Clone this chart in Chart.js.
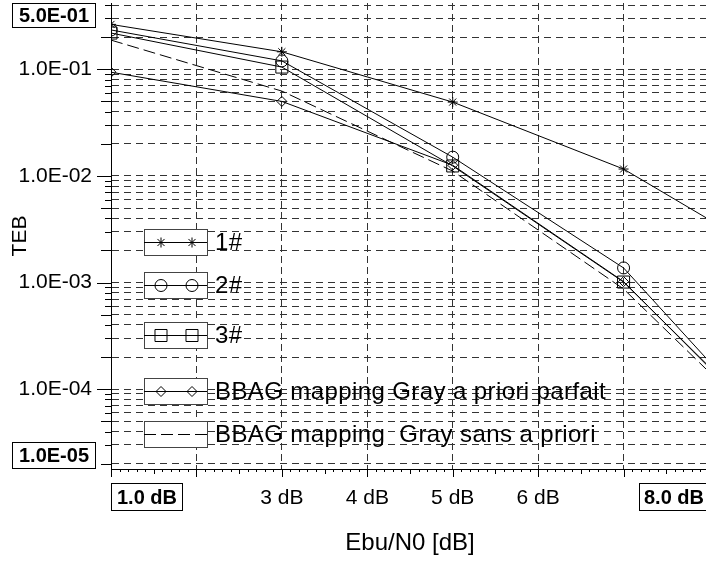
<!DOCTYPE html>
<html>
<head>
<meta charset="utf-8">
<script src="https://cdn.jsdelivr.net/npm/chart.js@4.4.1/dist/chart.umd.min.js"></script>
<style>
    html, body { margin: 0; padding: 0; background: #fff; overflow: hidden; }
    #wrap { position: relative; width: 712px; height: 563px; }
</style>
</head>
<body>
<div id="wrap"><canvas id="tebChart" width="712" height="563"></canvas></div>
<script>
// Valeurs : TEB en fonction de Ebu/N0
const ebn0 = [1, 3, 5, 7, 8];
const teb1 = [0.264, 0.146, 0.0493, 0.0116, 0.0039];
const teb2 = [0.234, 0.120, 0.0150, 0.00137, 0.000182];
const teb3 = [0.219, 0.105, 0.0124, 0.00101, 0.000163];
const tebParfait = [0.094, 0.050, 0.0126, 0.00102, 0.000160];
const tebSansPriori = [0.188, 0.0625, 0.0111, 0.00087, 0.000145];

const seriesLabels = ['1#', '2#', '3#', 'BBAG mapping Gray a priori parfait', 'BBAG mapping  Gray sans a priori'];

// Axes
const yMin = 1.78e-5, yMax = 0.419;
const xMin = 1, xMax = 8;
const yDecades = [1e-1, 1e-2, 1e-3, 1e-4];
const yDecadeLabels = ['1.0E-01', '1.0E-02', '1.0E-03', '1.0E-04'];
const xTickValues = [1, 2, 3, 4, 5, 6, 7, 8];
const xTickLabels = ['', '', '3 dB', '4 dB', '5 dB', '6 dB', '', ''];
const yBoxLabels = ['5.0E-01', '1.0E-05'];
const xBoxLabels = ['1.0 dB', '8.0 dB'];
const xTitle = 'Ebu/N0 [dB]';
const yTitle = 'TEB';

const FONT = '"Liberation Sans", Arial, sans-serif';

// graduations log : 1..9 x 10^e
const yTickValues = [];
for (let e = -5; e <= -1; e++) {
    for (let m = 1; m <= 9; m++) {
        const v = m * Math.pow(10, e);
        if (v > yMin && v < yMax) yTickValues.push(v);
    }
}

function makeSerie(label, values, style, radius, dash) {
    return {
        label: label,
        data: ebn0.map((x, i) => ({ x: x, y: values[i] })),
        borderColor: '#000',
        backgroundColor: 'rgba(0,0,0,0)',
        borderWidth: 1,
        borderDash: dash || [],
        tension: 0,
        pointStyle: style,
        pointRadius: ebn0.map((x, i) => (i < ebn0.length - 1 ? radius : 0)),
        pointBorderColor: '#000',
        pointBackgroundColor: 'rgba(0,0,0,0)',
        pointBorderWidth: 1,
        legendRadius: radius
    };
}

const datasets = [
    makeSerie(seriesLabels[0], teb1, 'star', 5),
    makeSerie(seriesLabels[1], teb2, 'circle', 6),
    makeSerie(seriesLabels[2], teb3, 'rect', 8.5),
    makeSerie(seriesLabels[3], tebParfait, 'rectRot', 5),
    makeSerie(seriesLabels[4], tebSansPriori, false, 0, [12, 5])
];

// Légende encadrée dessinée dans la zone du graphique
const legendBoxes = {
    id: 'legendBoxes',
    afterDatasetsDraw(chart) {
        const ctx = chart.ctx;
        const left = 144, w = 63, h = 26;
        const centers = [242, 285, 335, 391, 434];
        chart.data.datasets.forEach((ds, i) => {
            const cy = centers[i];
            ctx.save();
            ctx.fillStyle = '#fff';
            ctx.fillRect(left, cy - h / 2, w, h);
            ctx.strokeStyle = '#444';
            ctx.lineWidth = 1;
            ctx.strokeRect(left + 0.5, Math.round(cy - h / 2) + 0.5, w, h);
            ctx.strokeStyle = '#000';
            ctx.setLineDash(ds.borderDash);
            ctx.beginPath();
            ctx.moveTo(left, cy + 0.5);
            ctx.lineTo(left + w, cy + 0.5);
            ctx.stroke();
            ctx.setLineDash([]);
            if (ds.pointStyle) {
                ctx.fillStyle = 'rgba(0,0,0,0)';
                [left + 17, left + 48].forEach(px => {
                    Chart.helpers.drawPoint(ctx, {
                        pointStyle: ds.pointStyle,
                        radius: ds.legendRadius,
                        rotation: 0,
                        borderWidth: 1
                    }, px, cy + 0.5);
                });
            }
            ctx.fillStyle = '#000';
            ctx.font = '24px ' + FONT;
            ctx.letterSpacing = '0.4px';
            ctx.textAlign = 'left';
            ctx.textBaseline = 'middle';
            ctx.fillText(ds.label, left + w + 8, cy + 1);
            ctx.restore();
        });
    }
};

// petites graduations et étiquettes encadrées
function boxLabel(ctx, text, x, y, w, h) {
    ctx.fillStyle = '#fff';
    ctx.fillRect(x, y, w, h);
    ctx.strokeStyle = '#000';
    ctx.lineWidth = 1;
    ctx.strokeRect(x + 0.5, y + 0.5, w - 1, h - 1);
    ctx.fillStyle = '#000';
    ctx.font = 'bold 20px ' + FONT;
    ctx.textAlign = 'center';
    ctx.textBaseline = 'middle';
    ctx.fillText(text, x + w / 2, y + h / 2 + 1);
}

const axisDecor = {
    id: 'axisDecor',
    afterDraw(chart) {
        const { ctx, chartArea: area, scales } = chart;
        const x = scales.x, y = scales.y;
        ctx.save();
        ctx.strokeStyle = '#000';
        ctx.lineWidth = 1;
        yTickValues.forEach(v => {
            const py = Math.round(y.getPixelForValue(v)) + 0.5;
            const m = Math.round(v / Math.pow(10, Math.floor(Math.log10(v) + 1e-9)));
            const len = m === 1 ? 14 : (m === 2 || m === 5 ? 10 : 6);
            ctx.beginPath();
            ctx.moveTo(area.left - len, py);
            ctx.lineTo(area.left, py);
            ctx.stroke();
        });
        for (let k = 0; k <= (xMax - xMin) * 10; k++) {
            const px = Math.round(x.getPixelForValue(xMin + k / 10)) + 0.5;
            const len = k % 10 === 0 ? 8 : (k % 5 === 0 ? 5 : 3);
            ctx.beginPath();
            ctx.moveTo(px, area.bottom);
            ctx.lineTo(px, area.bottom + len);
            ctx.stroke();
        }
        boxLabel(ctx, yBoxLabels[0], 12, area.top, 84, 25);
        boxLabel(ctx, yBoxLabels[1], 12, area.bottom - 27, 84, 27);
        boxLabel(ctx, xBoxLabels[0], area.left, area.bottom + 14, 72, 28);
        boxLabel(ctx, xBoxLabels[1], area.right - 70, area.bottom + 14, 70, 28);
        ctx.restore();
    }
};

new Chart(document.getElementById('tebChart'), {
    type: 'line',
    data: { datasets: datasets },
    options: {
        responsive: false,
        animation: false,
        layout: { autoPadding: false, padding: { left: 0, top: 3, right: 3, bottom: 0 } },
        plugins: {
            legend: { display: false },
            tooltip: { enabled: false }
        },
        scales: {
            x: {
                type: 'linear',
                min: xMin,
                max: xMax,
                afterFit: scale => {
                    scale.height = 94;
                    scale.paddingLeft = 0;
                    scale.paddingRight = 0;
                },
                afterBuildTicks: scale => {
                    scale.ticks = xTickValues.map(v => ({ value: v }));
                },
                ticks: {
                    autoSkip: false,
                    maxRotation: 0,
                    padding: 17,
                    color: '#000',
                    font: { family: FONT, size: 21 },
                    callback: value => {
                        const i = xTickValues.indexOf(value);
                        return i >= 0 ? xTickLabels[i] : '';
                    }
                },
                grid: {
                    drawTicks: false,
                    lineWidth: 1,
                    color: c => (c.tick && (c.tick.value === xMin || c.tick.value === xMax)) ? 'rgba(0,0,0,0)' : '#333'
                },
                border: { display: true, color: '#000', width: 1, dash: [7, 4] },
                title: {
                    display: true,
                    text: xTitle,
                    color: '#000',
                    font: { family: FONT, size: 24 },
                    padding: { top: 0, bottom: 5 }
                }
            },
            y: {
                type: 'logarithmic',
                min: yMin,
                max: yMax,
                afterFit: scale => {
                    scale.width = 111;
                    scale.paddingTop = 0;
                    scale.paddingBottom = 0;
                },
                afterBuildTicks: scale => {
                    scale.ticks = yTickValues.map(v => ({ value: v }));
                },
                ticks: {
                    autoSkip: false,
                    padding: 19,
                    color: '#000',
                    font: { family: FONT, size: 21 },
                    callback: value => {
                        const i = yDecades.findIndex(d => Math.abs(d - value) < d * 1e-6);
                        return i >= 0 ? yDecadeLabels[i] : '';
                    }
                },
                grid: {
                    drawTicks: false,
                    lineWidth: 1,
                    color: '#333'
                },
                border: { display: true, color: '#000', width: 1, dash: [7, 5] },
                title: {
                    display: true,
                    text: yTitle,
                    color: '#000',
                    font: { family: FONT, size: 21 },
                    padding: { top: 8, bottom: 0 }
                }
            }
        }
    },
    plugins: [legendBoxes, axisDecor]
});
</script>
</body>
</html>
